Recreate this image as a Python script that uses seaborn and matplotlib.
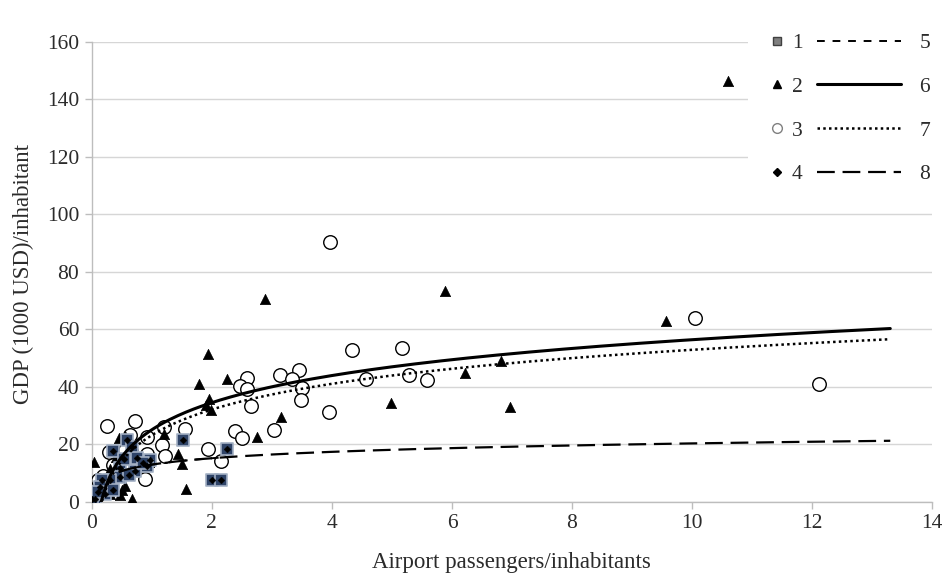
import numpy as np
import pandas as pd
import matplotlib
matplotlib.use("Agg")
import matplotlib.pyplot as plt
import seaborn as sns
from matplotlib.lines import Line2D
from matplotlib.patches import Rectangle

# ---- data ----
# series 1: squares
x1 = [0.59, 0.36, 0.67, 0.75, 0.97, 0.92, 0.72, 0.47, 0.47, 0.31, 0.17, 0.14, 0.05, 0.00,
      0.22, 1.52, 2.25, 2.00, 2.16, 0.53, 0.36, 0.85, 0.10, 0.62]
y1 = [21.7, 17.9, 19.1, 15.4, 14.5, 12.4, 10.7, 11.9, 8.6, 7.5, 7.5, 5.2, 1.1, 1.1,
      2.9, 21.7, 18.5, 7.5, 7.8, 15.0, 4.0, 13.5, 3.5, 9.5]
# series 2: triangles
x2 = [10.60, 2.89, 5.88, 1.94, 1.78, 2.25, 1.95, 1.90, 1.98, 3.15, 2.76, 1.44, 1.50, 1.57,
      4.98, 6.22, 6.81, 6.97, 9.56, 0.04, 0.46, 0.55, 0.69, 0.30, 0.36, 0.17, 0.11, 0.30,
      0.47, 0.50, 0.55, 0.67, 1.20, 0.95, 0.20, 0.40, 0.80, 0.08]
y2 = [146.2, 70.6, 73.4, 51.4, 40.9, 42.7, 35.7, 33.6, 32.1, 29.4, 22.5, 16.6, 13.3, 4.6,
      34.4, 44.7, 49.0, 32.9, 62.9, 13.9, 22.4, 22.8, 19.7, 11.6, 8.6, 4.0, 2.3, 2.9,
      2.3, 4.0, 5.7, 1.1, 23.5, 14.0, 6.5, 15.5, 12.5, 0.8]
# series 3: open circles
x3 = [3.97, 10.05, 12.11, 4.33, 5.16, 4.57, 5.28, 5.59, 2.59, 2.47, 2.58, 3.14, 3.45, 3.34,
      3.51, 3.48, 2.65, 3.96, 1.55, 2.39, 2.50, 3.04, 1.94, 2.16, 1.20, 1.17, 1.22, 0.25,
      0.72, 0.64, 0.92, 0.92, 0.28, 0.19, 0.11, 0.89, 0.72, 0.05, 0.35, 0.15, 0.55]
y3 = [90.4, 63.9, 40.9, 52.7, 53.6, 42.8, 44.3, 42.4, 43.1, 40.3, 39.4, 44.2, 45.8, 42.8,
      39.5, 35.6, 33.5, 31.4, 25.5, 24.6, 22.1, 25.0, 18.3, 14.1, 26.0, 19.7, 15.9, 26.5,
      28.0, 23.2, 22.6, 16.8, 17.4, 9.2, 7.5, 8.1, 11.6, 2.0, 13.0, 5.5, 18.0]
# series 4: small diamonds (plotted on the square points)
x4 = list(x1)
y4 = list(y1)

# logarithmic trend lines  y = a + b*ln(x) : series 5..8
trend_names = ["5", "6", "7", "8"]
trend_a = [13.0, 25.1, 23.2, 13.0]
trend_b = [3.2, 13.6, 12.9, 3.2]
trend_x0 = [0.45, 0.16, 0.17, 0.45]
trend_x1 = [2.3, 13.3, 13.3, 13.3]

x_ticks = [0, 2, 4, 6, 8, 10, 12, 14]
y_ticks = [0, 20, 40, 60, 80, 100, 120, 140, 160]

# ---- style ----
sns.set_theme(style="white")
plt.rcParams['font.family'] = ['Liberation Serif', 'DejaVu Serif']
txt = '#2b2b2b'
tick_fs = 15.5
lab_fs = 16.5

fig = plt.figure(figsize=(9.5, 5.74), dpi=100)
ax = fig.add_axes([91.7/950, 1-502/574, (932.3-91.7)/950, (502-41.7)/574])

# points
sns.scatterplot(x=x3, y=y3, ax=ax, marker='o', s=95, facecolor='white',
                edgecolor='black', linewidth=1.0, zorder=3)
sns.scatterplot(x=x2, y=y2, ax=ax, marker='^', s=55, color='black',
                edgecolor='black', linewidth=0.5, zorder=4)
sns.scatterplot(x=x1, y=y1, ax=ax, marker='s', s=80, color='#2f4468',
                edgecolor='#a3b0c4', linewidth=1.2, zorder=5)
sns.scatterplot(x=x4, y=y4, ax=ax, marker='D', s=12, color='black',
                edgecolor='black', linewidth=0.3, zorder=6)

# trend lines
styles = {
    "5": dict(lw=1.4, dashes=(4, 4)),
    "6": dict(lw=2.2, dashes=()),
    "7": dict(lw=1.8, dashes=(1, 1.3)),
    "8": dict(lw=1.6, dashes=(8, 3.5)),
}
for name, a, b, xa, xb in zip(trend_names, trend_a, trend_b, trend_x0, trend_x1):
    xs = np.linspace(xa, xb, 300)
    df = pd.DataFrame({"x": xs, "y": a + b*np.log(xs)})
    st = styles[name]
    sns.lineplot(data=df, x="x", y="y", ax=ax, color='black', lw=st["lw"],
                 zorder=7, legend=False)
    line = ax.lines[-1]
    if st["dashes"]:
        line.set_dashes(st["dashes"])

ax.set_xlim(0, 14)
ax.set_ylim(0, 160)
ax.set_xticks(x_ticks)
ax.set_yticks(y_ticks)
ax.set_xticklabels([str(v) for v in x_ticks], fontsize=tick_fs, color=txt)
ax.set_yticklabels([str(v) for v in y_ticks], fontsize=tick_fs, color=txt)
ax.yaxis.grid(True, color='#d6d6d6', lw=1)
ax.xaxis.grid(False)
for s in ['top', 'right']:
    ax.spines[s].set_visible(False)
for s in ['left', 'bottom']:
    ax.spines[s].set_color('#bdbdbd')
    ax.spines[s].set_linewidth(1)
ax.tick_params(axis='both', which='both', length=5, width=1, color='#bdbdbd',
               direction='out', pad=4, bottom=True, left=True)
ax.set_xlabel("Airport passengers/inhabitants", fontsize=lab_fs, color=txt)
ax.set_ylabel("GDP (1000 USD)/inhabitant", fontsize=lab_fs, color=txt)
ax.xaxis.set_label_coords(0.499, -0.108)
ax.yaxis.set_label_coords(-0.069, 0.495)

# white area behind the legend
fig.add_artist(Rectangle((748/950, 1-192/574), (945-748)/950, (192-20)/574,
                         transform=fig.transFigure, facecolor='white',
                         edgecolor='none', zorder=4))

mk_handles = [
    Line2D([], [], ls='none', marker='s', ms=6, mfc='#7f7f7f', mec='#404040', mew=1),
    Line2D([], [], ls='none', marker='^', ms=6, mfc='black', mec='black'),
    Line2D([], [], ls='none', marker='o', ms=7, mfc='white', mec='#808080', mew=1),
    Line2D([], [], ls='none', marker='D', ms=4, mfc='black', mec='black'),
]
leg1 = fig.legend(mk_handles, ["1", "2", "3", "4"], loc='upper left',
                  bbox_to_anchor=(768/950, 1-33/574), frameon=False, fontsize=tick_fs,
                  handlelength=0.8, handletextpad=0.3, labelspacing=1.1,
                  borderpad=0, borderaxespad=0, labelcolor=txt)
leg1.set_zorder(5)

ln_handles = []
for name in trend_names:
    st = styles[name]
    h = Line2D([], [], color='black', lw=st["lw"])
    if st["dashes"]:
        h.set_dashes(st["dashes"])
    ln_handles.append(h)
leg2 = fig.legend(ln_handles, trend_names, loc='upper left',
                  bbox_to_anchor=(817/950, 1-33/574), frameon=False, fontsize=tick_fs,
                  handlelength=3.9, handletextpad=0.85, labelspacing=1.1,
                  borderpad=0, borderaxespad=0, labelcolor=txt)
leg2.set_zorder(5)

fig.savefig("out.png", dpi=100, facecolor='white')
